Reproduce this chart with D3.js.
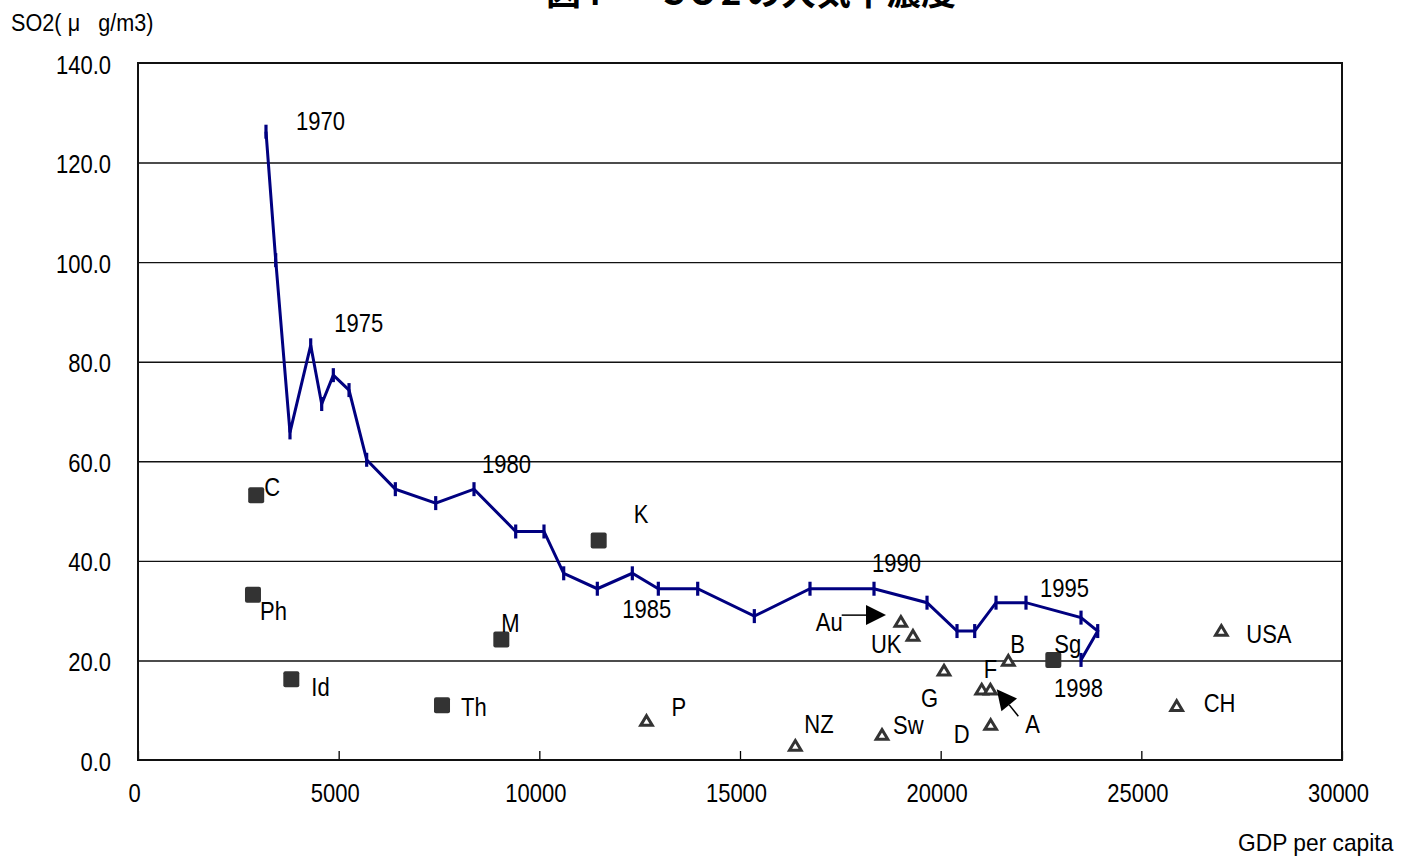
<!DOCTYPE html>
<html>
<head>
<meta charset="utf-8">
<script src="https://cdn.jsdelivr.net/npm/d3@7"></script>
<style>
  body { margin: 0; background: #fff; }
  svg text { font-family: "Liberation Sans", Arial, sans-serif; fill: #000; }
</style>
</head>
<body>
<svg id="chart" width="1421" height="863"></svg>
<script>
// Japan: SO2 concentration vs GDP per capita, 1970-1998
const years = [1970, 1971, 1972, 1973, 1974, 1975, 1976, 1977, 1978, 1979,
               1980, 1981, 1982, 1983, 1984, 1985, 1986, 1987, 1988, 1989,
               1990, 1991, 1992, 1993, 1994, 1995, 1996, 1997, 1998];
const japanGdp = [3189, 3431, 3787, 4303, 4577, 4867, 5258, 5698, 6412, 7418,
                  8372, 9411, 10116, 10607, 11445, 12317, 12965, 13946, 15357, 16744,
                  18339, 19660, 20407, 20848, 21379, 22126, 23497, 23913, 23497];
const japanSo2 = [126.2, 100.4, 65.8, 83.3, 71.5, 77.3, 74.3, 60.3, 54.4, 51.6,
                  54.4, 45.9, 45.9, 37.5, 34.4, 37.5, 34.4, 34.4, 28.9, 34.4,
                  34.4, 31.6, 25.9, 25.9, 31.6, 31.6, 28.6, 25.9, 20.1];
const labeledYears = [1970, 1975, 1980, 1985, 1990, 1995, 1998];

// Asian economies (filled squares)
const asiaNames = ["C", "Ph", "Id", "Th", "M", "K", "Sg"];
const asiaGdp   = [2945, 2865, 3820, 7575, 9053, 11479, 22807];
const asiaSo2   = [53.2, 33.2, 16.2, 11.0, 24.2, 44.1, 20.1];

// OECD economies (open triangles)
const oecdNames = ["P", "NZ", "Sw", "Au", "UK", "G", "F", "A", "D", "B", "USA", "CH"];
const oecdGdp   = [12670, 16378, 18538, 19008, 19310, 20083, 21022, 21238, 21246, 21686, 26993, 25881];
const oecdSo2   = [8.0, 3.0, 5.2, 27.9, 25.1, 18.1, 14.3, 14.3, 7.2, 20.1, 26.1, 11.0];

// Pointer arrows (GDP, SO2) from a label to its marker
const arrowStart = [[17534, 29.1], [21935, 8.8]];
const arrowEnd   = [[18638, 29.1], [21396, 14.2]];

const xTicks = [0, 5000, 10000, 15000, 20000, 25000, 30000];
const yTicks = [0, 20, 40, 60, 80, 100, 120, 140];

// label placement (pixels from the marker to text start / baseline)
const yearLabelOffset = {1970: [30, -2], 1975: [1, -43], 1980: [8, -16], 1985: [-10, 45],
                         1990: [-2, -17], 1995: [14, -6], 1998: [-27, 37]};
const asiaLabelOffset = {C: [8, 1], Ph: [7, 25], Id: [20, 17], Th: [19, 11], M: [0, -8], K: [35, -17], Sg: [1, -7]};
const oecdLabelOffset = {P: [25, -4], NZ: [9, -12], Sw: [11, 0], Au: [-85, 10], UK: [-42, 18], G: [-23, 37],
                         F: [2, -11], A: [35, 44], D: [-37, 19], B: [2, -7], USA: [25, 13], CH: [27, 7]};

const svg = d3.select("#chart");
const plotL = 138, plotR = 1342, plotT = 63, plotB = 760;
const x = d3.scaleLinear().domain([0, 30000]).range([plotL, plotR]);
const y = d3.scaleLinear().domain([0, 140]).range([plotB, plotT]);

const NAVY = "#000080", MARK = "#333333";
const FONT = 25, SQUEEZE = 0.88;

function addText(parent, str, px, py, opts = {}) {
  const size = opts.size || FONT, sx = opts.sx || SQUEEZE;
  return parent.append("text")
    .attr("transform", `translate(${px},${py}) scale(${sx},1)`)
    .attr("font-size", size)
    .attr("text-anchor", opts.anchor || "start")
    .text(str);
}

// title (runs off the top edge)
const title = svg.append("text")
  .attr("x", 546).attr("y", 5)
  .attr("font-size", 35).attr("font-weight", "bold")
  .style("font-family", '"Noto Sans CJK JP", sans-serif');
title.append("tspan").text("図4");
title.append("tspan").attr("x", 663).attr("letter-spacing", 4.5).text("SO2");
title.append("tspan").text("の大気中濃度");

// axis titles
const yTitle = svg.append("text")
  .attr("transform", `translate(11,31) scale(0.9,1)`)
  .attr("font-size", 24);
yTitle.append("tspan").text("SO2(");
yTitle.append("tspan").attr("dx", 7).text("μ");
yTitle.append("tspan").attr("dx", 20).text("g/m3)");

addText(svg, "GDP per capita", 1238, 851, {size: 24, sx: 0.95});

// gridlines
svg.append("g")
  .attr("transform", `translate(${plotL},0)`)
  .call(d3.axisLeft(y).tickValues(yTicks.filter(v => v > 0 && v < 140)).tickSize(-(plotR - plotL)).tickFormat(""))
  .call(g => g.select(".domain").remove())
  .call(g => g.selectAll("line").attr("stroke", "#111").attr("stroke-width", 1.4));

// y axis labels
svg.append("g")
  .attr("transform", `translate(${plotL},0)`)
  .call(d3.axisLeft(y).tickValues(yTicks).tickSize(0).tickFormat(d3.format(".1f")))
  .call(g => g.select(".domain").remove())
  .call(g => g.selectAll("text")
    .attr("x", null).attr("dy", null).attr("y", null)
    .attr("font-size", FONT).attr("font-family", null).attr("fill", "#000")
    .attr("text-anchor", "end")
    .attr("transform", `translate(-27,10) scale(${SQUEEZE},1)`));

// x axis: inward ticks and labels
svg.append("g")
  .attr("transform", `translate(0,${plotB})`)
  .call(d3.axisBottom(x).tickValues(xTicks).tickSize(-9).tickFormat(d3.format("d")))
  .call(g => g.select(".domain").remove())
  .call(g => g.selectAll("line").attr("stroke", "#000").attr("stroke-width", 1.3))
  .call(g => g.selectAll("text")
    .attr("y", null).attr("dy", null)
    .attr("font-size", FONT).attr("font-family", null).attr("fill", "#000")
    .attr("text-anchor", "middle")
    .attr("transform", `translate(-4,42) scale(${SQUEEZE},1)`));

// plot frame
svg.append("rect")
  .attr("x", plotL).attr("y", plotT)
  .attr("width", plotR - plotL).attr("height", plotB - plotT)
  .attr("fill", "none").attr("stroke", "#111").attr("stroke-width", 2);

// Japan trajectory
const japan = years.map((yr, i) => ({year: yr, gdp: japanGdp[i], so2: japanSo2[i]}));
svg.append("path")
  .datum(japan)
  .attr("fill", "none").attr("stroke", NAVY).attr("stroke-width", 3)
  .attr("stroke-linejoin", "miter")
  .attr("d", d3.line().x(d => x(d.gdp)).y(d => y(d.so2)));

svg.append("g").selectAll("line")
  .data(japan).join("line")
  .attr("x1", d => x(d.gdp)).attr("x2", d => x(d.gdp))
  .attr("y1", d => y(d.so2) - 7).attr("y2", d => y(d.so2) + 7)
  .attr("stroke", NAVY).attr("stroke-width", 3.2);

japan.filter(d => labeledYears.includes(d.year)).forEach(d => {
  const o = yearLabelOffset[d.year];
  addText(svg, d.year, x(d.gdp) + o[0], y(d.so2) + o[1]);
});

// Asian economies
const asia = asiaNames.map((n, i) => ({name: n, gdp: asiaGdp[i], so2: asiaSo2[i]}));
svg.append("g").selectAll("rect")
  .data(asia).join("rect")
  .attr("x", d => x(d.gdp) - 8).attr("y", d => y(d.so2) - 8)
  .attr("width", 16).attr("height", 16).attr("rx", 2)
  .attr("fill", MARK);
asia.forEach(d => {
  const o = asiaLabelOffset[d.name];
  addText(svg, d.name, x(d.gdp) + o[0], y(d.so2) + o[1]);
});

// OECD economies
const oecd = oecdNames.map((n, i) => ({name: n, gdp: oecdGdp[i], so2: oecdSo2[i]}));
svg.append("g").selectAll("path")
  .data(oecd).join("path")
  .attr("transform", d => `translate(${x(d.gdp)},${y(d.so2)})`)
  .attr("d", "M0,-4.5L5.8,5.2L-5.8,5.2Z")
  .attr("fill", "#fff").attr("stroke", MARK).attr("stroke-width", 3)
  .attr("stroke-linejoin", "miter");
oecd.forEach(d => {
  const o = oecdLabelOffset[d.name];
  addText(svg, d.name, x(d.gdp) + o[0], y(d.so2) + o[1]);
});

// arrows
arrowStart.forEach((s, i) => {
  const e = arrowEnd[i];
  const x1 = x(s[0]), y1 = y(s[1]), x2 = x(e[0]), y2 = y(e[1]);
  const len = Math.hypot(x2 - x1, y2 - y1), ux = (x2 - x1) / len, uy = (y2 - y1) / len;
  const head = 20, half = 10;
  const bx = x2 - ux * head, by = y2 - uy * head;
  svg.append("line")
    .attr("x1", x1).attr("y1", y1).attr("x2", bx).attr("y2", by)
    .attr("stroke", "#000").attr("stroke-width", 1.5);
  svg.append("path")
    .attr("d", `M${x2},${y2}L${bx - uy * half},${by + ux * half}L${bx + uy * half},${by - ux * half}Z`)
    .attr("fill", "#000");
});
</script>
</body>
</html>
